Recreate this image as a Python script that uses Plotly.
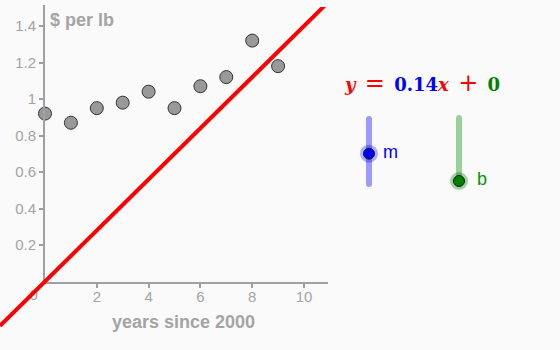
import plotly.graph_objects as go

# ---- data ----
years = [0, 1, 2, 3, 4, 5, 6, 7, 8, 9]
price = [0.92, 0.87, 0.95, 0.98, 1.04, 0.95, 1.07, 1.12, 1.32, 1.18]
x_ticks = [2, 4, 6, 8, 10]
y_ticks = [0.2, 0.4, 0.6, 0.8, 1.0, 1.2, 1.4]
y_tick_text = ["0.2", "0.4", "0.6", "0.8", "1", "1.2", "1.4"]
m_val = 0.14
b_val = 0
m_range = [0, 0.3]
b_range = [0, 1]

W, H = 560, 350
BG = "#fafafa"
AX = "#a0a0a0"
TXT = "#a4a4a4"

# pixel geometry of the graphics view
ox, oy = 45.0, 281.5          # origin pixel
sx, sy = 25.9, 182.5          # px per unit
right_px, top_px = 328.0, 5.0

def px2x(px):
    return (px - ox) / sx

def py2y(py):
    return (oy - py) / sy

fig = go.Figure()

# data points (main axes)
fig.add_trace(go.Scatter(
    x=years, y=price, mode="markers", cliponaxis=False,
    marker=dict(size=13, color="#999999", line=dict(color="#333333", width=1)),
    xaxis="x", yaxis="y", hoverinfo="skip"))

# "0" tick label and fitted line on full-area overlay axes
x2r = [px2x(0), px2x(right_px)]
y2r = [py2y(H), py2y(7)]
fig.add_trace(go.Scatter(
    x=[0], y=[0], mode="markers+text", text=["0"], textposition="bottom left",
    marker=dict(size=10, color="rgba(0,0,0,0)"),
    textfont=dict(size=15, color=TXT, family="Arial"),
    cliponaxis=False, xaxis="x2", yaxis="y2", hoverinfo="skip"))
fig.add_trace(go.Scatter(
    x=x2r, y=[m_val * v + b_val for v in x2r], mode="lines",
    line=dict(color="#ff0000", width=4),
    xaxis="x2", yaxis="y2", hoverinfo="skip"))

# sliders
def slider(val, rng, xpx, yaxis, track, knob, halo):
    fig.add_trace(go.Scatter(
        x=[xpx, xpx], y=rng, mode="lines+markers",
        line=dict(color=track, width=6),
        marker=dict(size=6, color=track),
        cliponaxis=False, xaxis="x3", yaxis=yaxis, hoverinfo="skip"))
    fig.add_trace(go.Scatter(
        x=[xpx], y=[val], mode="markers", cliponaxis=False,
        marker=dict(size=18, color=halo),
        xaxis="x3", yaxis=yaxis, hoverinfo="skip"))
    fig.add_trace(go.Scatter(
        x=[xpx], y=[val], mode="markers", cliponaxis=False,
        marker=dict(size=11, color=knob, line=dict(color="#1a1a1a", width=1)),
        xaxis="x3", yaxis=yaxis, hoverinfo="skip"))

slider(m_val, m_range, 369, "y3", "#9a9aff", "#0000ff", "rgba(0,0,255,0.3)")
slider(b_val, b_range, 459, "y4", "#9ad09a", "#008000", "rgba(0,128,0,0.35)")

OP = "font-size:24px"
SP = " &#8201;"
eq = (f"<span style='color:#ff0000'><b><i>y</i></b>{SP}<span style='{OP}'>=</span>{SP}</span>"
      f"<span style='color:#0000ff'><b>{m_val:g}</b></span>"
      f"<span style='color:#ff0000'><b><i>x</i></b>{SP}<span style='{OP}'>+</span>{SP}</span>"
      f"<span style='color:#008000'><b>{b_val:g}</b></span>")

fig.update_layout(
    width=W, height=H, margin=dict(l=0, r=0, t=0, b=0),
    paper_bgcolor=BG, plot_bgcolor="rgba(0,0,0,0)", showlegend=False,
    xaxis=dict(domain=[ox / W, right_px / W], range=[0, px2x(right_px)],
               showgrid=False, zeroline=False, showline=True, linecolor=AX, linewidth=2,
               ticks="outside", ticklen=4, tickwidth=1.5, tickcolor=AX,
               ticklabelstandoff=-4,
               tickvals=x_ticks, tickfont=dict(size=15, color=TXT, family="Arial"),
               anchor="y", fixedrange=True),
    yaxis=dict(domain=[(H - oy) / H, (H - top_px) / H], range=[0, py2y(top_px)],
               showgrid=False, zeroline=False, showline=True, linecolor=AX, linewidth=2,
               ticks="outside", ticklen=4, tickwidth=1.5, tickcolor=AX,
               tickvals=y_ticks, ticktext=y_tick_text,
               tickfont=dict(size=15, color=TXT, family="Arial"),
               anchor="x", fixedrange=True),
    xaxis2=dict(domain=[0, right_px / W], range=x2r, visible=False, anchor="y2"),
    yaxis2=dict(domain=[0, (H - 7) / H], range=y2r, visible=False, anchor="x2"),
    xaxis3=dict(domain=[0, 1], range=[0, W], visible=False, anchor="y3"),
    yaxis3=dict(domain=[(H - 184) / H, (H - 119) / H], range=m_range, visible=False, anchor="x3"),
    yaxis4=dict(domain=[(H - 181) / H, (H - 118) / H], range=b_range, visible=False, anchor="x3"),
    annotations=[
        dict(text="<b>$ per lb</b>", xref="paper", yref="paper",
             x=48 / W, y=(H - 20) / H, xanchor="left", yanchor="middle", showarrow=False,
             font=dict(size=18, color=TXT, family="Arial")),
        dict(text="<b>years since 2000</b>", xref="paper", yref="paper",
             x=183.5 / W, y=(H - 322) / H, xanchor="center", yanchor="middle", showarrow=False,
             font=dict(size=18, color=TXT, family="Arial")),
        dict(text=eq, xref="paper", yref="paper",
             x=342 / W, y=(H - 83) / H, xanchor="left", yanchor="middle", showarrow=False,
             font=dict(size=18, family="DejaVu Serif")),
        dict(text="m", xref="paper", yref="paper",
             x=381 / W, y=(H - 152) / H, xanchor="left", yanchor="middle", showarrow=False,
             font=dict(size=18, color="#0000ff", family="Arial")),
        dict(text="b", xref="paper", yref="paper",
             x=475 / W, y=(H - 179) / H, xanchor="left", yanchor="middle", showarrow=False,
             font=dict(size=18, color="#009900", family="Arial")),
    ],
)

fig.write_html("out.html")
